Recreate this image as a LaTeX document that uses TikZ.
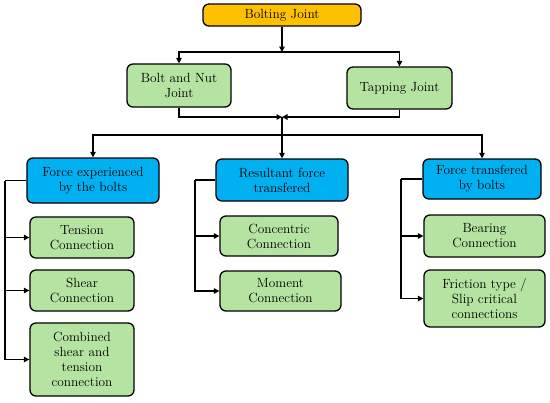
\documentclass[tikz,border=0pt]{standalone}
\usepackage{xcolor}
\usetikzlibrary{positioning, calc, arrows.meta}
\definecolor{topfill}{HTML}{FFC000}
\definecolor{bluefill}{HTML}{00B0F0}
\definecolor{greenfill}{HTML}{B5E3A1}
\begin{document}
\begin{tikzpicture}[x=1bp, y=-1bp, line width=1.3bp,
    box/.style={draw, rounded corners=6bp, align=center, inner sep=1bp,
                font=\fontsize{13.3bp}{15bp}\selectfont},
    topbox/.style={box, fill=topfill},
    bluebox/.style={box, fill=bluefill},
    greenbox/.style={box, fill=greenfill},
    link/.style={-{Triangle[length=5.5bp, width=5.5bp]}}]

    % Fixed page size
    \useasboundingbox (0,0) rectangle (550,402);

    % --- TOP LEVEL ---
    \node[topbox, minimum width=158bp, minimum height=22bp] (bj) at (282,15) {Bolting Joint};

    % --- SECOND LEVEL ---
    \node[greenbox, minimum width=104bp, minimum height=43bp] (bnj) at (179,85.5) {Bolt and Nut\\Joint};
    \node[greenbox, minimum width=105bp, minimum height=42bp] (tap) at (399.5,88) {Tapping Joint};

    % --- THIRD LEVEL ---
    \node[bluebox, minimum width=132bp, minimum height=45bp] (feb) at (93,180.5) {Force experienced\\by the bolts};
    \node[bluebox, minimum width=132bp, minimum height=42bp] (rft) at (282,180) {Resultant force\\transfered};
    \node[bluebox, minimum width=118bp, minimum height=40bp] (ftb) at (482,179) {Force transfered\\by bolts};

    % --- LEFT COLUMN ---
    \node[greenbox, minimum width=104bp, minimum height=41bp] (ten) at (82,237.5) {Tension\\Connection};
    \node[greenbox, minimum width=104bp, minimum height=41bp] (shr) at (82,290.5) {Shear\\Connection};
    \node[greenbox, minimum width=104bp, minimum height=73bp] (comb) at (82,359.5) {Combined\\shear and\\tension\\connection};

    % --- MIDDLE COLUMN ---
    \node[greenbox, minimum width=118bp, minimum height=40bp] (conc) at (279,236) {Concentric\\Connection};
    \node[greenbox, minimum width=121bp, minimum height=40bp] (mom) at (280.5,291) {Moment\\Connection};

    % --- RIGHT COLUMN ---
    \node[greenbox, minimum width=121bp, minimum height=42bp] (bear) at (484.5,236) {Bearing\\Connection};
    \node[greenbox, minimum width=121bp, minimum height=57bp] (fric) at (484.5,298.5) {Friction type /\\Slip critical\\connections};

    % Junction points
    \coordinate (split1) at (282,52);
    \coordinate (merge) at (282,117);
    \coordinate (split2) at (282,135);
    \coordinate (bus1) at (5,180.5);
    \coordinate (bus2) at (195,180);
    \coordinate (bus3) at (401,179);

    % Top split
    \draw[link] (bj) -- (split1);
    \draw[link] (split1) -| (bnj.north);
    \draw[link] (split1) -| (tap.north);

    % Merge and second split
    \draw[link] (bnj.south) |- (merge);
    \draw[link] (tap.south) |- (merge);
    \draw (merge) -- (split2);
    \draw[link] (split2) -| (feb.north);
    \draw[link] (split2) -- (rft.north);
    \draw[link] (split2) -| (ftb.north);

    % Left bus
    \draw (feb.west) -- (bus1);
    \draw[link] (bus1) |- (ten.west);
    \draw[link] (bus1) |- (shr.west);
    \draw[link] (bus1) |- (comb.west);

    % Middle bus
    \draw (rft.west) -- (bus2);
    \draw[link] (bus2) |- (conc.west);
    \draw[link] (bus2) |- (mom.west);

    % Right bus
    \draw (ftb.west) -- (bus3);
    \draw[link] (bus3) |- (bear.west);
    \draw[link] (bus3) |- (fric.west);

\end{tikzpicture}
\end{document}
